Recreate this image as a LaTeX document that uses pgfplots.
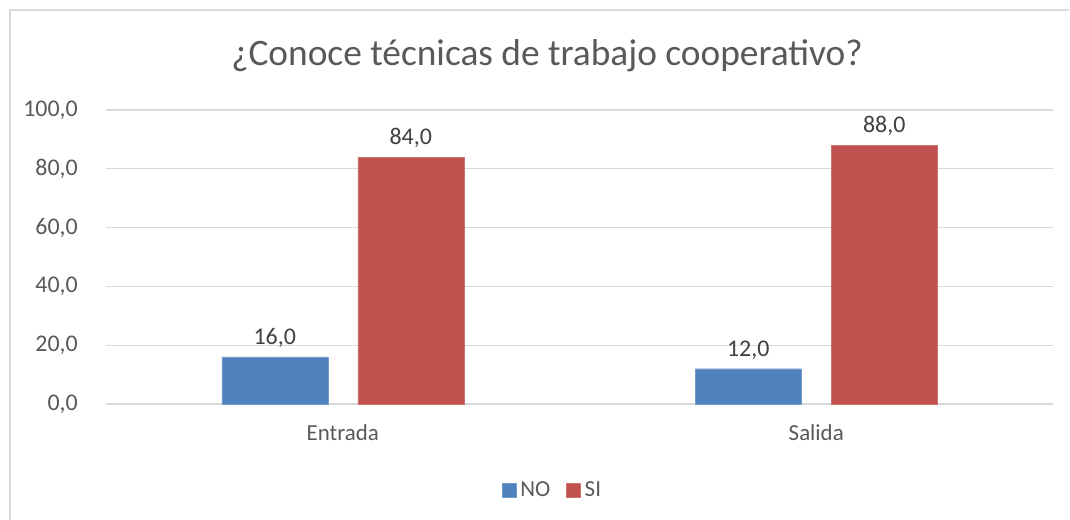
\documentclass[border=0pt]{standalone}
\usepackage{pgfplots}
\pgfplotsset{compat=1.18}
\usepackage{fontspec}
\setmainfont{Carlito}
\definecolor{gridc}{HTML}{D9D9D9}
\definecolor{txt}{HTML}{595959}
\definecolor{lbl}{HTML}{404040}
\definecolor{noc}{HTML}{4F81BD}
\definecolor{sic}{HTML}{C0504D}
\begin{document}
\begin{tikzpicture}[x=1bp,y=1bp]
\useasboundingbox (0,0) rectangle (1070,520);
\fill[white] (0,0) rectangle (1070,520);
\draw[gridc,line width=1.5bp] (10,0) -- (10,510) -- (1069,510);
\node[text=txt,font=\fontsize{37.5}{42}\selectfont] at (547,464) {¿Conoce técnicas de trabajo cooperativo?};
\begin{axis}[
  at={(106bp,116bp)}, anchor=south west,
  width=947bp, height=294bp, scale only axis,
  xmin=-0.5, xmax=1.5, ymin=0, ymax=100,
  ybar, bar width=106bp,
  axis line style={draw=none},
  ytick={0,20,40,60,80,100},
  ymajorgrids, grid style={gridc, line width=1.2bp},
  major tick length=0pt,
  xtick={0,1}, xticklabels={Entrada,Salida},
  /pgf/number format/.cd, fixed, zerofill, precision=1, use comma, assume math mode=true,
  /pgfplots/.cd,
  ticklabel style={font=\fontsize{24}{28}\selectfont, text=txt},
  yticklabel style={inner sep=0pt, xshift=-28bp},
  xticklabel style={inner sep=0pt, yshift=-20bp, font=\fontsize{23}{27}\selectfont},
  nodes near coords,
  every node near coord/.append style={font=\fontsize{24}{28}\selectfont, text=lbl, yshift=6bp},
  legend style={at={(0.4715,-0.2925)}, anchor=center, draw=none, fill=none, legend columns=2,
    font=\fontsize{23}{27}\selectfont, text=txt,
    /tikz/every odd column/.append style={column sep=2bp},
    /tikz/every even column/.append style={column sep=14bp}},
  legend image code/.code={\fill[#1] (0bp,-7bp) rectangle (14bp,7bp);},
  clip=false,
]
\draw[gridc, line width=1.5bp] (axis cs:-0.5,0) -- (axis cs:1.5,0);
\addplot[fill=noc, draw=noc!80!white, bar shift=-68bp] coordinates {(0,16) (1,12)};
\addplot[fill=sic, draw=sic!80!white, bar shift=68bp] coordinates {(0,84) (1,88)};
\legend{NO,SI}
\end{axis}
\end{tikzpicture}
\end{document}
